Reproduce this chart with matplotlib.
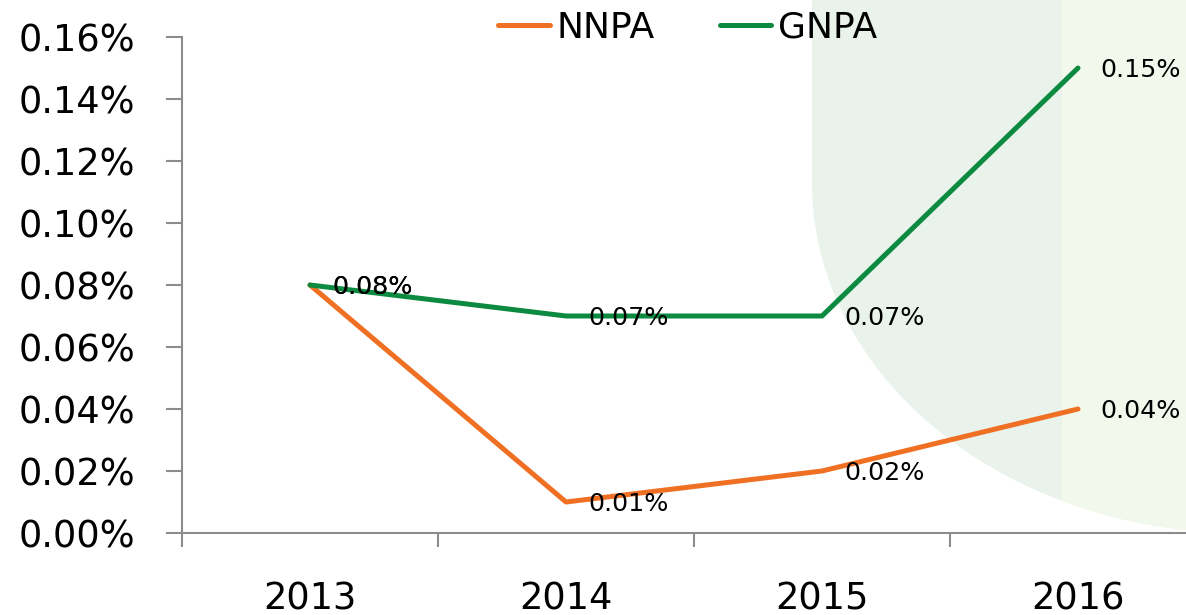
import matplotlib
matplotlib.use('Agg')
import matplotlib.pyplot as plt
import numpy as np
from matplotlib.patches import Polygon, Rectangle
from matplotlib.ticker import FuncFormatter, FixedLocator

# Data (values in percent)
years = ['2013', '2014', '2015', '2016']
nnpa = [0.08, 0.01, 0.02, 0.04]
gnpa = [0.08, 0.07, 0.07, 0.15]

W, H = 1186, 615
dpi = 100
orange = '#F07023'
green = '#0C8A3F'
axis_grey = '#8C8C8C'

plt.rcParams['font.family'] = ['DejaVu Sans']

fig = plt.figure(figsize=(W / dpi, H / dpi), dpi=dpi)

# decorative background shape (rounded panel), in pixel coords
bg = fig.add_axes([0, 0, 1, 1], zorder=0)
bg.set_xlim(0, W)
bg.set_ylim(H, 0)
bg.axis('off')
left_x, bend_y = 812, 183
rx, ry = 430, 350
t = np.linspace(np.pi, np.pi / 2, 120)
arc_x = left_x + rx + rx * np.cos(t)
arc_y = bend_y + ry * np.sin(t)
pts = [(left_x, -5)] + list(zip(arc_x, arc_y)) + [(W + 80, bend_y + ry), (W + 80, -5)]
shape = Polygon(pts, closed=True, facecolor='#E9F3EC', edgecolor='none')
bg.add_patch(shape)
band = Rectangle((1062, -5), 250, 700, facecolor='#F3F8ED', edgecolor='none')
bg.add_patch(band)
band.set_clip_path(shape)

# main chart
ax = fig.add_axes([182 / W, (H - 533) / H, (1206 - 182) / W, (533 - 37) / H], zorder=1)
ax.patch.set_alpha(0)
x = np.arange(len(years))
ax.plot(x, nnpa, color=orange, linewidth=3.6, label='NNPA', solid_capstyle='round')
ax.plot(x, gnpa, color=green, linewidth=3.6, label='GNPA', solid_capstyle='round')

for series in (nnpa, gnpa):
    for xi, yi in zip(x, series):
        ax.annotate('%.2f%%' % yi, xy=(xi, yi), xytext=(16, -1.5),
                    textcoords='offset points', ha='left', va='center',
                    fontsize=18.3, color='black')

ax.set_xlim(-0.5, 3.5)
ax.set_ylim(0, 0.16)
ax.yaxis.set_major_locator(FixedLocator(np.arange(0, 0.161, 0.02)))
ax.yaxis.set_major_formatter(FuncFormatter(lambda v, p: '%.2f%%' % v))
ax.set_xticks(x)
ax.set_xticklabels(years)
ax.xaxis.set_minor_locator(FixedLocator([-0.5, 0.5, 1.5, 2.5, 3.5]))

for side in ('top', 'right'):
    ax.spines[side].set_visible(False)
for side in ('left', 'bottom'):
    ax.spines[side].set_color(axis_grey)
    ax.spines[side].set_linewidth(1.5)

ax.tick_params(axis='y', which='major', length=11.5, width=1.5, color=axis_grey,
               labelsize=26.5, pad=22)
ax.tick_params(axis='x', which='major', length=0, labelsize=26.5, pad=34)
ax.tick_params(axis='x', which='minor', length=10, width=1.5, color=axis_grey)

fig.legend(loc='center', bbox_to_anchor=(688 / W, 1 - 28 / H), ncol=2,
           frameon=False, fontsize=26, handlelength=1.42, handletextpad=0.2,
           columnspacing=1.8, borderpad=0)

fig.savefig('out.png', dpi=dpi)
